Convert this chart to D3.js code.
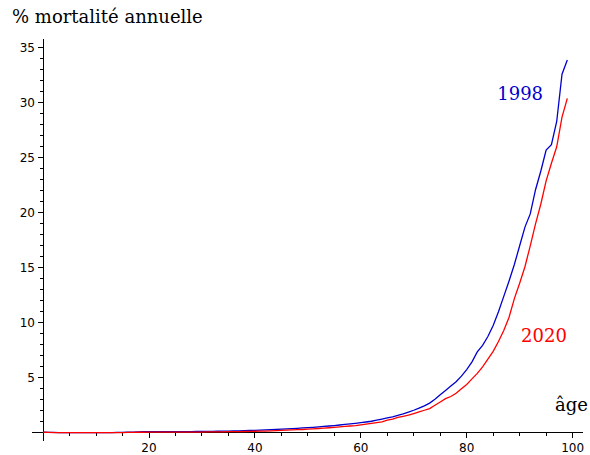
<!DOCTYPE html>
<html>
<head>
<meta charset="utf-8">
<script src="https://cdn.jsdelivr.net/npm/d3@7"></script>
<style>
  body { margin: 0; background: #fff; }
  svg { display: block; }
</style>
</head>
<body>
<div id="root"></div>
<script>
const width = 590
const height = 455

// ages 0..99
const ages = d3.range(0, 100)

// annual mortality (%) by age
const mort1998 = [
  0.06, 0.04, 0.03, 0.02, 0.02, 0.02, 0.02, 0.01, 0.01, 0.01,
  0.01, 0.01, 0.02, 0.02, 0.03, 0.04, 0.05, 0.07, 0.09, 0.10,
  0.10, 0.10, 0.10, 0.10, 0.10, 0.10, 0.10, 0.11, 0.11, 0.12,
  0.12, 0.13, 0.13, 0.14, 0.15, 0.16, 0.17, 0.18, 0.19, 0.21,
  0.22, 0.24, 0.26, 0.28, 0.30, 0.33, 0.35, 0.38, 0.41, 0.44,
  0.47, 0.50, 0.54, 0.58, 0.62, 0.66, 0.71, 0.76, 0.81, 0.86,
  0.92, 0.98, 1.05, 1.15, 1.25, 1.35, 1.45, 1.58, 1.72, 1.88,
  2.05, 2.25, 2.45, 2.70, 3.05, 3.45, 3.85, 4.25, 4.65, 5.15,
  5.75, 6.45, 7.35, 7.95, 8.75, 9.75, 11.0, 12.4, 13.8, 15.3,
  17.0, 18.7, 19.9, 22.1, 23.8, 25.7, 26.2, 28.3, 32.6, 33.9
]

const mort2020 = [
  0.05, 0.03, 0.02, 0.01, 0.01, 0.01, 0.01, 0.01, 0.01, 0.01,
  0.01, 0.01, 0.01, 0.01, 0.02, 0.02, 0.03, 0.04, 0.05, 0.05,
  0.06, 0.06, 0.06, 0.06, 0.06, 0.06, 0.07, 0.07, 0.07, 0.07,
  0.07, 0.08, 0.08, 0.09, 0.09, 0.10, 0.10, 0.11, 0.12, 0.13,
  0.14, 0.15, 0.16, 0.17, 0.19, 0.22, 0.24, 0.26, 0.28, 0.30,
  0.33, 0.36, 0.39, 0.43, 0.46, 0.50, 0.54, 0.58, 0.62, 0.66,
  0.72, 0.78, 0.85, 0.92, 1.00, 1.15, 1.25, 1.40, 1.50, 1.60,
  1.75, 1.90, 2.05, 2.20, 2.50, 2.80, 3.10, 3.30, 3.60, 4.00,
  4.40, 4.90, 5.40, 6.00, 6.70, 7.40, 8.30, 9.30, 10.5, 12.2,
  13.6, 15.1, 17.0, 19.0, 20.8, 22.9, 24.5, 26.0, 28.7, 30.4
]

const xTicks = [20, 40, 60, 80, 100]
const yTicks = [5, 10, 15, 20, 25, 30, 35]

const series = [
  { name: '1998', values: mort1998, color: '#0000cc', labelAge: 90.1, labelVal: 30.3 },
  { name: '2020', values: mort2020, color: '#ff0000', labelAge: 94.6, labelVal: 8.25 },
]

const x = d3.scaleLinear().domain([0, 100]).range([43.1, 572.6])
const y = d3.scaleLinear().domain([0, 35]).range([432.8, 47.8])

const svg = d3.select('#root').append('svg').attr('width', width).attr('height', height)

// axes lines
const axes = svg.append('g').attr('stroke', '#000').attr('stroke-width', 1).attr('shape-rendering', 'crispEdges')
axes.append('line').attr('x1', 32).attr('x2', 583).attr('y1', y(0)).attr('y2', y(0))
axes.append('line').attr('x1', x(0)).attr('x2', x(0)).attr('y1', 39).attr('y2', 441)

// x ticks
const xMinor = d3.range(5, 101, 5)
axes.selectAll('line.xtick')
  .data(xMinor)
  .join('line')
  .attr('class', 'xtick')
  .attr('x1', (d) => x(d))
  .attr('x2', (d) => x(d))
  .attr('y1', y(0))
  .attr('y2', (d) => y(0) + (d % 20 === 0 ? 5 : 3))

// y ticks
const yMinor = d3.range(1, 36, 1)
axes.selectAll('line.ytick')
  .data(yMinor)
  .join('line')
  .attr('class', 'ytick')
  .attr('x1', (d) => x(0) - (d % 5 === 0 ? 5 : 3))
  .attr('x2', x(0))
  .attr('y1', (d) => y(d))
  .attr('y2', (d) => y(d))

svg.append('g')
  .attr('font-family', 'DejaVu Sans')
  .attr('font-size', 12)
  .attr('text-anchor', 'middle')
  .selectAll('text')
  .data(xTicks)
  .join('text')
  .attr('x', (d) => x(d))
  .attr('y', 452)
  .text((d) => d)

svg.append('g')
  .attr('font-family', 'DejaVu Sans')
  .attr('font-size', 12)
  .attr('text-anchor', 'end')
  .selectAll('text')
  .data(yTicks)
  .join('text')
  .attr('x', 35)
  .attr('y', (d) => y(d) + 4.5)
  .text((d) => d)

// curves
const line = d3.line()
  .x((d, i) => x(ages[i]))
  .y((d) => y(d))

svg.append('g')
  .attr('fill', 'none')
  .attr('stroke-width', 1.3)
  .selectAll('path')
  .data(series)
  .join('path')
  .attr('stroke', (d) => d.color)
  .attr('d', (d) => line(d.values))

// labels
svg.append('g')
  .attr('font-family', 'DejaVu Serif')
  .attr('font-size', 18)
  .attr('text-anchor', 'middle')
  .selectAll('text')
  .data(series)
  .join('text')
  .attr('x', (d) => x(d.labelAge))
  .attr('y', (d) => y(d.labelVal))
  .attr('fill', (d) => d.color)
  .text((d) => d.name)

svg.append('text')
  .attr('x', 12)
  .attr('y', 22.5)
  .attr('font-family', 'DejaVu Serif')
  .attr('font-size', 18)
  .text('% mortalité annuelle')

svg.append('text')
  .attr('x', 588)
  .attr('y', 411)
  .attr('text-anchor', 'end')
  .attr('font-family', 'DejaVu Serif')
  .attr('font-size', 18)
  .text('âge')
</script>
</body>
</html>
